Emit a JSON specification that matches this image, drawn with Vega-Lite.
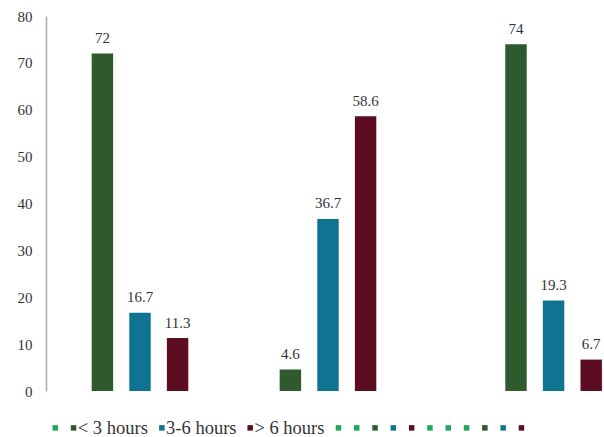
{
  "$schema": "https://vega.github.io/schema/vega-lite/v6.json",
  "width": 558,
  "height": 375,
  "autosize": {"type": "none"},
  "padding": {"left": 46, "top": 16, "right": 0, "bottom": 46},
  "background": "white",
  "data": {
    "values": [
      {"series": "< 3 hours", "value": 72},
      {"series": "3-6 hours", "value": 16.7},
      {"series": "> 6 hours", "value": 11.3},
      {"series": "< 3 hours (2)", "value": 4.6},
      {"series": "3-6 hours (2)", "value": 36.7},
      {"series": "> 6 hours (2)", "value": 58.6},
      {"series": "< 3 hours (3)", "value": 74},
      {"series": "3-6 hours (3)", "value": 19.3},
      {"series": "> 6 hours (3)", "value": 6.7}
    ]
  },
  "encoding": {
    "x": {
      "field": "series",
      "type": "nominal",
      "sort": null,
      "axis": null,
      "scale": {
        "domain": ["spare 1", "< 3 hours", "3-6 hours", "> 6 hours", "spare 2", "spare 3", "< 3 hours (2)", "3-6 hours (2)", "> 6 hours (2)", "spare 4", "spare 5", "spare 6", "< 3 hours (3)", "3-6 hours (3)", "> 6 hours (3)"],
        "range": [0, 564],
        "paddingInner": 0.43,
        "paddingOuter": 0.215
      }
    },
    "y": {
      "field": "value",
      "type": "quantitative",
      "title": null,
      "scale": {"domain": [0, 80], "nice": false},
      "axis": {
        "values": [0, 10, 20, 30, 40, 50, 60, 70, 80],
        "grid": false,
        "ticks": false,
        "domainColor": "#a9abb8",
        "domainWidth": 1.5,
        "labelFont": "Liberation Serif",
        "labelFontSize": 15,
        "labelColor": "#333333",
        "labelPadding": 14
      }
    }
  },
  "layer": [
    {
      "mark": {"type": "bar"},
      "encoding": {
        "color": {
          "field": "series",
          "type": "nominal",
          "title": null,
          "scale": {
            "domain": ["spare 1", "< 3 hours", "3-6 hours", "> 6 hours", "spare 2", "spare 3", "< 3 hours (2)", "3-6 hours (2)", "> 6 hours (2)", "spare 4", "spare 5", "spare 6", "< 3 hours (3)", "3-6 hours (3)", "> 6 hours (3)"],
            "range": ["#1fa85a", "#2e5a2e", "#0e7492", "#5c0d22", "#1fa85a", "#1fa85a", "#2e5a2e", "#0e7492", "#5c0d22", "#1fa85a", "#1fa85a", "#1fa85a", "#2e5a2e", "#0e7492", "#5c0d22"]
          },
          "legend": {
            "orient": "none",
            "direction": "horizontal",
            "columns": 15,
            "legendX": 0,
            "legendY": 402.5,
            "padding": 0,
            "symbolType": "square",
            "symbolSize": 30,
            "symbolStrokeWidth": 0,
            "labelOffset": -5,
            "columnPadding": 4.3,
            "labelFont": "Liberation Serif",
            "labelFontSize": 18.5,
            "labelColor": "#333333",
            "labelExpr": "indexof(['< 3 hours', '3-6 hours', '> 6 hours'], datum.label) >= 0 ? datum.label : ''"
          }
        }
      }
    },
    {
      "mark": {
        "type": "text",
        "baseline": "alphabetic",
        "dy": -10.5,
        "font": "Liberation Serif",
        "fontSize": 15,
        "color": "#333333"
      },
      "encoding": {
        "text": {"field": "value", "type": "quantitative"}
      }
    }
  ],
  "config": {
    "view": {"stroke": null}
  }
}
